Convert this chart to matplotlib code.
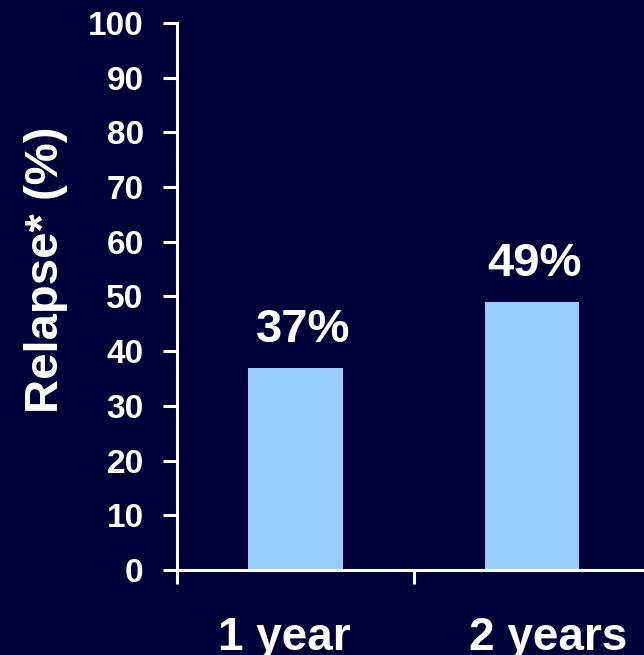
import matplotlib
matplotlib.use("Agg")
import matplotlib.pyplot as plt
from matplotlib.transforms import ScaledTranslation

categories = ["1 year", "2 years"]
values = [37, 49]
bar_labels = ["37%", "49%"]
yticks = [0, 10, 20, 30, 40, 50, 60, 70, 80, 90, 100]

bg = "#020038"
bar_color = "#99ccff"
fg = "white"

plt.rcParams['font.family'] = ['Liberation Sans', 'DejaVu Sans']
plt.rcParams['font.weight'] = 'bold'

fig = plt.figure(figsize=(6.44, 6.55), dpi=100, facecolor=bg)
ax = fig.add_axes([0.2748, 0.1298, 0.735, 0.8351], facecolor=bg)

xs = [i + 0.5 for i in range(len(categories))]
ax.bar(xs, values, width=0.4, color=bar_color, zorder=2)

label_dx_px = [7.5, 2.4]
for x, v, lab, dx in zip(xs, values, bar_labels, label_dx_px):
    t = ax.text(x, v + 4.7, lab, ha='center', va='baseline', color=fg,
                fontsize=34, fontweight='bold')
    t.set_transform(t.get_transform() + ScaledTranslation(dx / 100, 0, fig.dpi_scale_trans))

ax.set_xlim(0, 2)
ax.set_ylim(0, 100)
ax.set_yticks(yticks)
ax.set_yticklabels([str(t) for t in yticks], fontsize=24, fontweight='bold', color=fg)
ax.set_xticks([0, 1, 2])
ax.set_xticklabels([])
ax.set_xticks(xs, minor=True)
ax.set_xticklabels(categories, minor=True, fontsize=33, fontweight='bold', color=fg)
ax.tick_params(axis='x', which='minor', length=0, pad=33)
ax.tick_params(axis='x', which='major', length=10, width=2.2, color=fg, direction='out')
ax.tick_params(axis='y', length=10, width=2.2, color=fg, direction='out', pad=14)

offsets_px = [-11, 16]
for lbl, dx in zip(ax.get_xticklabels(minor=True), offsets_px):
    lbl.set_transform(lbl.get_transform() + ScaledTranslation(dx / 100, 0, fig.dpi_scale_trans))

for s in ['top', 'right']:
    ax.spines[s].set_visible(False)
for s in ['left', 'bottom']:
    ax.spines[s].set_color(fg)
    ax.spines[s].set_linewidth(2.2)

ax.set_ylabel("Relapse* (%)", fontsize=34, fontweight='bold', color=fg, labelpad=1)
ax.yaxis.set_label_coords(-0.231, 0.548)

fig.savefig("out.png", dpi=100, facecolor=bg)
